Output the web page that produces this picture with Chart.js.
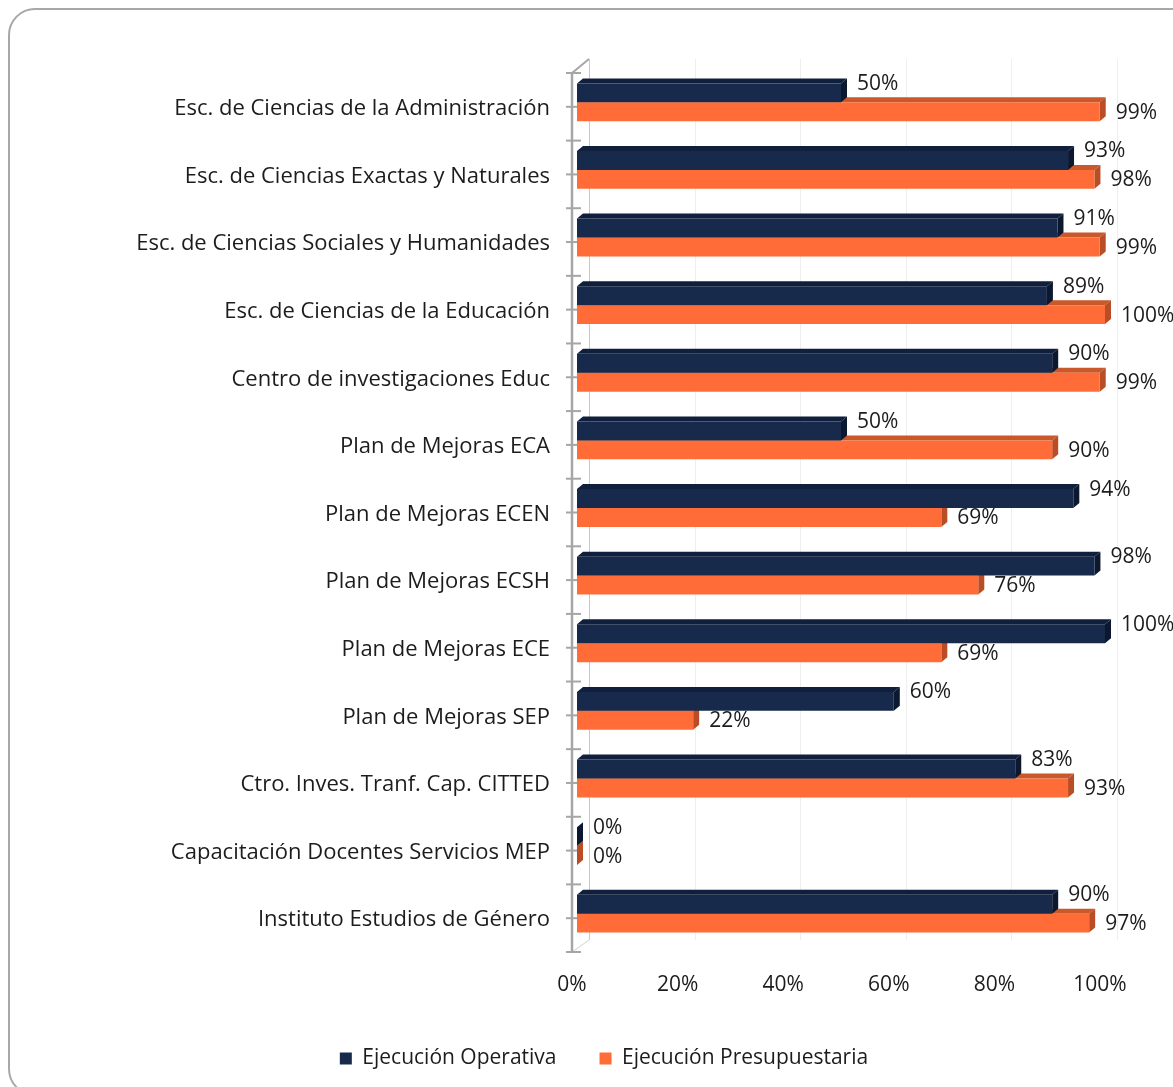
<!DOCTYPE html>
<html>
<head>
<meta charset="utf-8">
<script src="https://cdn.jsdelivr.net/npm/chart.js@4.4.1/dist/chart.umd.min.js"></script>
<style>
html,body{margin:0;padding:0;background:#fff;overflow:hidden}
#wrap{position:relative;width:1173px;height:1087px;overflow:hidden}
#frame{position:absolute;left:8px;top:8px;width:1220px;height:1088px;border:2px solid #a8a8a8;border-radius:27px;pointer-events:none;box-sizing:border-box}
canvas{position:absolute;left:0;top:0}
</style>
</head>
<body>
<div id="wrap"><canvas id="c" width="1173" height="1087"></canvas><div id="frame"></div></div>
<script>
const categories = [
  'Esc. de Ciencias de la Administración',
  'Esc. de Ciencias Exactas y Naturales',
  'Esc. de Ciencias Sociales y Humanidades',
  'Esc. de Ciencias de la Educación',
  'Centro de investigaciones Educ',
  'Plan de Mejoras ECA',
  'Plan de Mejoras ECEN',
  'Plan de Mejoras ECSH',
  'Plan de Mejoras ECE',
  'Plan de Mejoras SEP',
  'Ctro. Inves. Tranf. Cap. CITTED',
  'Capacitación Docentes Servicios MEP',
  'Instituto Estudios de Género'
];
const ejecucionOperativa = [50, 93, 91, 89, 90, 50, 94, 98, 100, 60, 83, 0, 90];
const ejecucionPresupuestaria = [99, 98, 99, 100, 99, 90, 69, 76, 69, 22, 93, 0, 97];
const seriesNames = ['Ejecución Operativa', 'Ejecución Presupuestaria'];
const xTickValues = [0, 20, 40, 60, 80, 100];

const FONT = "'Open Sans', 'DejaVu Sans', sans-serif";
const TEXT = '#1c1c1c';
const OFF_X = 5, OFF_Y = -4.5, DX = 6, DY = 5;
const faceColors = [
  {front:'#172A4B', top:'#101f3b', side:'#0c1830'},
  {front:'#FF6C37', top:'#c9582b', side:'#b94d25'}
];

const wallPlugin = {
  id:'wall',
  afterLayout(chart){
    const lg = chart.legend;
    if (lg) { lg.left += 54; lg.right += 54; }
  },
  beforeDatasetsDraw(chart){
    const {ctx, chartArea:a, scales:{x}} = chart;
    const L = a.left, T = a.top, B = a.bottom, W = 17;
    ctx.save();
    ctx.lineWidth = 1;
    ctx.strokeStyle = '#eeeeee';
    xTickValues.slice(1).forEach(v => {
      const px = Math.round(x.getPixelForValue(v)) + W + 0.5;
      ctx.beginPath(); ctx.moveTo(px, T - 14); ctx.lineTo(px, B - 12); ctx.stroke();
    });
    ctx.strokeStyle = '#c9c9c9';
    ctx.beginPath(); ctx.moveTo(L + W + 0.5, T - 14); ctx.lineTo(L + W + 0.5, B - 12); ctx.stroke();
    ctx.strokeStyle = '#d2d2d2';
    ctx.beginPath(); ctx.moveTo(L, B); ctx.lineTo(L + W, B - 12); ctx.stroke();
    ctx.strokeStyle = '#a6a6a6';
    ctx.lineWidth = 2;
    ctx.beginPath(); ctx.moveTo(L, T); ctx.lineTo(L + W, T - 14); ctx.stroke();
    const n = categories.length, step = (B - T) / n;
    for (let i = 0; i <= 2 * n; i++) {
      const py = T + i * step / 2;
      ctx.beginPath(); ctx.moveTo(L - 6, py); ctx.lineTo(L + 9, py); ctx.stroke();
    }
    ctx.lineWidth = 2.5;
    ctx.beginPath(); ctx.moveTo(L, T - 1); ctx.lineTo(L, B + 1); ctx.stroke();
    ctx.restore();

    ctx.save();
    ctx.translate(OFF_X, OFF_Y);
    [1, 0].forEach(di => {
      const meta = chart.getDatasetMeta(di);
      meta.data.forEach(bar => {
        const p = bar.getProps(['x', 'y', 'base', 'height'], true);
        const top = p.y - p.height / 2, bot = p.y + p.height / 2;
        const x0 = p.base, x1 = p.x;
        ctx.fillStyle = faceColors[di].top;
        ctx.beginPath();
        ctx.moveTo(x0, top); ctx.lineTo(x0 + DX, top - DY);
        ctx.lineTo(x1 + DX, top - DY); ctx.lineTo(x1, top); ctx.closePath(); ctx.fill();
        ctx.fillStyle = faceColors[di].side;
        ctx.beginPath();
        ctx.moveTo(x1, top); ctx.lineTo(x1 + DX, top - DY);
        ctx.lineTo(x1 + DX, bot - DY); ctx.lineTo(x1, bot); ctx.closePath(); ctx.fill();
      });
    });
  },
  afterDatasetsDraw(chart){
    const ctx = chart.ctx;
    ctx.restore();
    ctx.save();
    ctx.font = '21px ' + FONT;
    ctx.fillStyle = TEXT;
    ctx.textAlign = 'left';
    ctx.textBaseline = 'middle';
    [0, 1].forEach(di => {
      const meta = chart.getDatasetMeta(di);
      const vals = chart.data.datasets[di].data;
      meta.data.forEach((bar, i) => {
        const p = bar.getProps(['x', 'y'], true);
        const dy = di === 0 ? -9 : 1;
        ctx.fillText(vals[i] + '%', p.x + OFF_X + DX + 10, p.y + OFF_Y + dy);
      });
    });
    ctx.restore();
  }
};

new Chart(document.getElementById('c').getContext('2d'), {
  type: 'bar',
  data: {
    labels: categories,
    datasets: [
      {label: seriesNames[0], data: ejecucionOperativa, backgroundColor: faceColors[0].front, borderWidth: 0, categoryPercentage: 0.56, barPercentage: 1},
      {label: seriesNames[1], data: ejecucionPresupuestaria, backgroundColor: faceColors[1].front, borderWidth: 0, categoryPercentage: 0.56, barPercentage: 1}
    ]
  },
  options: {
    indexAxis: 'y',
    responsive: false,
    animation: false,
    layout: {padding: {left: 0, right: 73, top: 73, bottom: 8}},
    scales: {
      x: {
        min: 0, max: 100,
        afterBuildTicks(s){ s.ticks = xTickValues.map(v => ({value: v})); },
        afterFit(s){ s.height = 53; },
        grid: {display: false, drawTicks: false},
        border: {display: false},
        ticks: {callback: v => v + '%', font: {family: FONT, size: 21}, color: TEXT, padding: 20, maxRotation: 0}
      },
      y: {
        afterFit(s){ s.width = 572; },
        grid: {display: false, drawTicks: false},
        border: {display: false},
        ticks: {font: {family: FONT, size: 22}, color: TEXT, padding: 22, labelOffset: 2}
      }
    },
    plugins: {
      legend: {
        position: 'bottom',
        labels: {boxWidth: 12, boxHeight: 12, font: {family: FONT, size: 21}, color: TEXT, padding: 43}
      },
      tooltip: {enabled: false}
    }
  },
  plugins: [wallPlugin]
});
</script>
</body>
</html>
